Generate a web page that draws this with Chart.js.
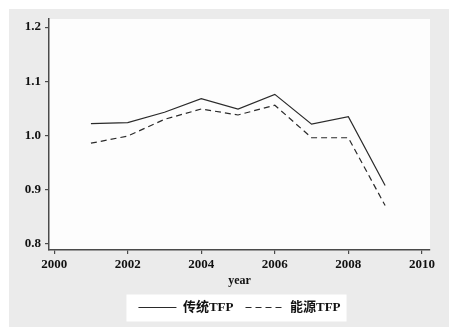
<!DOCTYPE html>
<html>
<head>
<meta charset="utf-8">
<script src="https://cdn.jsdelivr.net/npm/chart.js@4/dist/chart.umd.min.js"></script>
<style>
  html, body { margin: 0; padding: 0; background: #fff; }
  canvas { display: block; }
</style>
</head>
<body>
<canvas id="tfpChart" width="455" height="334"></canvas>
<script>
// data
const years = [2001, 2002, 2003, 2004, 2005, 2006, 2007, 2008, 2009];
const tradTFP = [1.022, 1.024, 1.043, 1.068, 1.049, 1.076, 1.021, 1.035, 0.908];
const energyTFP = [0.986, 0.999, 1.030, 1.049, 1.038, 1.056, 0.996, 0.996, 0.871];
const xTicks = [2000, 2002, 2004, 2006, 2008, 2010];
const yTicks = [0.8, 0.9, 1.0, 1.1, 1.2];
const seriesNames = ['传统TFP', '能源TFP'];

const serif = "'Liberation Serif', 'Noto Sans CJK SC', serif";
const axisColor = '#4a4a4a';

// paint the grey frame, white plot area and white legend box
const backgrounds = {
    id: 'backgrounds',
    beforeDraw(chart) {
        const ctx = chart.ctx;
        const area = chart.chartArea;
        ctx.save();
        ctx.fillStyle = '#ffffff';
        ctx.fillRect(0, 0, chart.width, chart.height);
        ctx.fillStyle = '#ebebeb';
        ctx.fillRect(9, 9, 440, 318);
        ctx.fillStyle = '#fdfdfd';
        ctx.fillRect(area.left, area.top, area.right - area.left, area.bottom - area.top);

        const boxes = chart.legend && chart.legend.legendHitBoxes;
        if (boxes && boxes.length) {
            const first = boxes[0];
            const last = boxes[boxes.length - 1];
            const midY = first.top + first.height / 2;
            ctx.fillStyle = '#ffffff';
            ctx.fillRect(first.left - 12, midY - 13, last.left + last.width - first.left + 18, 27);
        }
        ctx.restore();
    }
};

function makeDataset(label, values, dash) {
    return {
        label: label,
        data: years.map((y, i) => ({ x: y, y: values[i] })),
        borderColor: '#2a2a2a',
        backgroundColor: '#2a2a2a',
        borderWidth: 1.2,
        borderDash: dash,
        pointRadius: 0,
        tension: 0,
        fill: false
    };
}

new Chart(document.getElementById('tfpChart').getContext('2d'), {
    type: 'line',
    data: {
        datasets: [
            makeDataset(seriesNames[0], tradTFP, []),
            makeDataset(seriesNames[1], energyTFP, [6, 4])
        ]
    },
    options: {
        responsive: false,
        animation: false,
        layout: { padding: { left: 0, right: 25, top: 19, bottom: 10 } },
        plugins: {
            legend: {
                position: 'bottom',
                fullSize: false,
                labels: {
                    // zero-height box = a plain line sample that keeps the dash pattern
                    boxWidth: 38,
                    boxHeight: 0,
                    padding: 12,
                    color: '#111',
                    font: { family: serif, size: 13, weight: 'bold' }
                }
            },
            tooltip: { enabled: false }
        },
        scales: {
            x: {
                type: 'linear',
                min: 1999.86,
                max: 2010.22,
                afterBuildTicks: scale => { scale.ticks = xTicks.map(v => ({ value: v })); },
                afterFit: scale => { scale.height = 39; },
                grid: { drawOnChartArea: false, tickLength: 4, color: axisColor, lineWidth: 1.2 },
                border: { color: axisColor, width: 1.5 },
                ticks: {
                    padding: 3,
                    color: '#111',
                    maxRotation: 0,
                    font: { family: serif, size: 13, weight: 'bold' },
                    callback: v => String(v)
                },
                title: {
                    display: true,
                    text: 'year',
                    color: '#111',
                    padding: { top: 0, bottom: 1 },
                    font: { family: serif, size: 12, weight: 'bold' }
                }
            },
            y: {
                min: 0.789,
                max: 1.215,
                afterBuildTicks: scale => { scale.ticks = yTicks.map(v => ({ value: v })); },
                afterFit: scale => { scale.width = 49; },
                grid: { drawOnChartArea: false, tickLength: 4, color: axisColor, lineWidth: 1.2 },
                border: { color: axisColor, width: 1.5 },
                ticks: {
                    padding: 4,
                    color: '#111',
                    font: { family: serif, size: 13, weight: 'bold' },
                    callback: v => v.toFixed(1)
                }
            }
        }
    },
    plugins: [backgrounds]
});
</script>
</body>
</html>
